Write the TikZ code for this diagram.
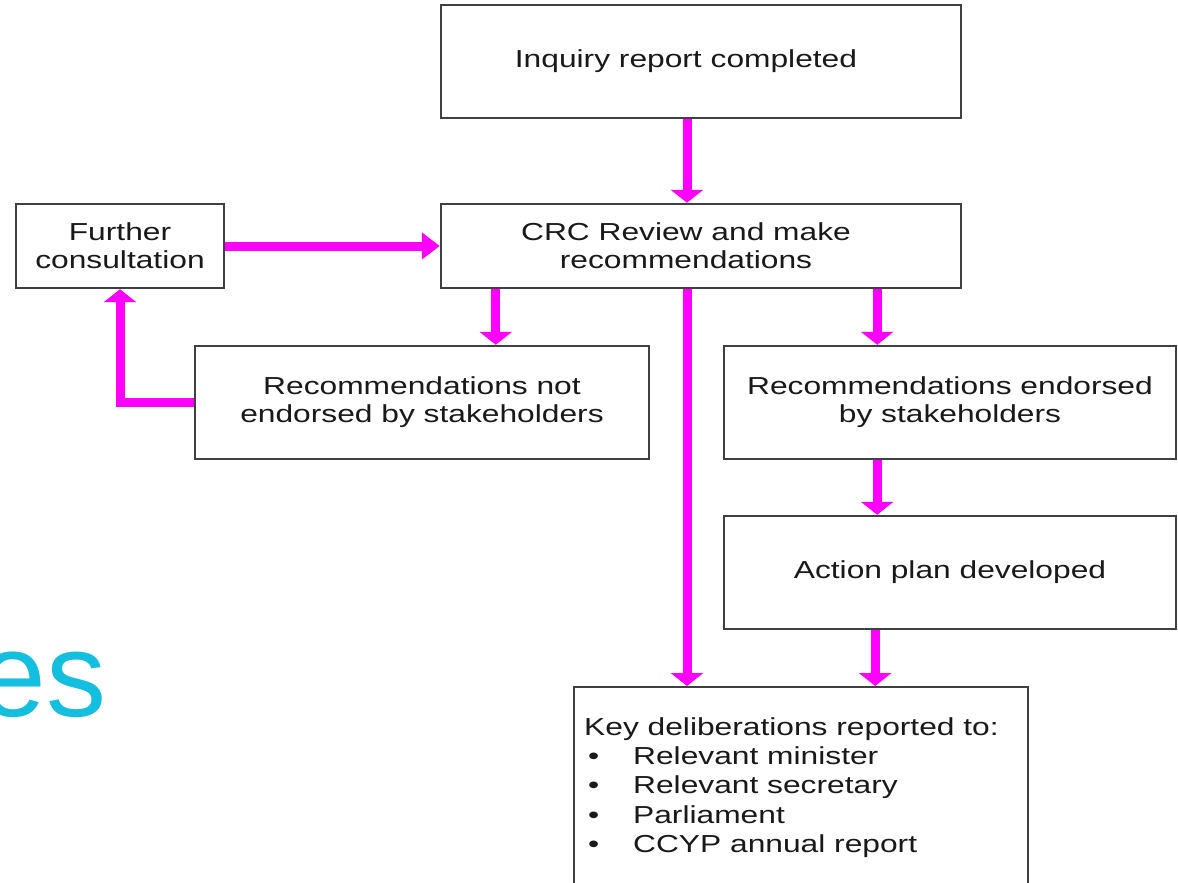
\documentclass[tikz,border=0pt]{standalone}
\usepackage{fontspec}
\setmainfont{Liberation Sans}
\newfontfamily\boxfont[FakeStretch=1.29]{Liberation Sans}
\usetikzlibrary{arrows.meta}
\definecolor{mag}{RGB}{255,0,255}
\definecolor{cyn}{RGB}{20,190,222}
\definecolor{edge}{RGB}{64,64,64}
\definecolor{txt}{RGB}{25,25,25}
\newcommand{\keybul}{\makebox[24.5pt][l]{\hspace{2pt}•}}
\newcommand{\lsh}{\hspace*{-15pt}}
\begin{document}
\begin{tikzpicture}[x=0.5pt,y=-0.5pt,
  box/.style={draw=edge,line width=1.2pt,fill=white,text=txt,
    font=\boxfont\fontsize{12.3}{14}\selectfont,align=center,inner sep=0pt},
  conn/.style={draw=mag,line width=4.5pt},
  varr/.style={conn,-{Triangle[length=6.5pt,width=16pt]}},
  harr/.style={conn,-{Triangle[length=9pt,width=13pt]}}]
\useasboundingbox (0,0) rectangle (1178,883);
\clip (0,0) rectangle (1178,883);
\node[anchor=base east,inner sep=0pt,text=cyn,font=\fontsize{60}{60}\selectfont] (es) at (107,716) {es};
\node[box,minimum width=260pt,minimum height=56.5pt] (inq) at (701,61.5) {\lsh Inquiry report completed};
\node[box,minimum width=260pt,minimum height=42pt] (crc) at (701,246) {\lsh CRC Review and make\\\lsh recommendations};
\node[box,minimum width=104pt,minimum height=42pt] (fur) at (120,246) {Further\\consultation};
\node[box,minimum width=227pt,minimum height=56.5pt] (nend) at (422,402.5) {Recommendations not\\endorsed by stakeholders};
\node[box,minimum width=226pt,minimum height=56.5pt] (yend) at (950,402.5) {Recommendations endorsed\\by stakeholders};
\node[box,minimum width=226pt,minimum height=56.5pt] (act) at (950,572.5) {Action plan developed};
\node[box,anchor=north west,inner sep=5pt] (key) at (573,686) {\parbox[t][200pt][t]{217pt}{\raggedright\fontsize{12.3}{14.7}\selectfont\vspace*{10pt}Key deliberations reported to:\\
\keybul Relevant minister\\
\keybul Relevant secretary\\
\keybul Parliament\\
\keybul CCYP annual report}};
\coordinate (cmid) at ([xshift=-7pt]crc.south);
\coordinate (imid) at ([xshift=-7pt]inq.south);
\coordinate (cl) at ([xshift=28pt]crc.south west);
\coordinate (cr) at ([xshift=-42.5pt]crc.south east);
\draw[varr] (imid) -- (imid |- crc.north);
\draw[harr] (fur.east) -- (crc.west);
\draw[varr] (cl) -- (cl |- nend.north);
\draw[varr] (cmid) -- (cmid |- key.north);
\draw[varr] (cr) -- (cr |- yend.north);
\draw[varr] (cr |- yend.south) -- (cr |- act.north);
\draw[varr] ([xshift=-1pt]cr |- act.south) -- ([xshift=-1pt]cr |- key.north);
\draw[varr] (nend.west) -| (fur.south);
\end{tikzpicture}
\end{document}
